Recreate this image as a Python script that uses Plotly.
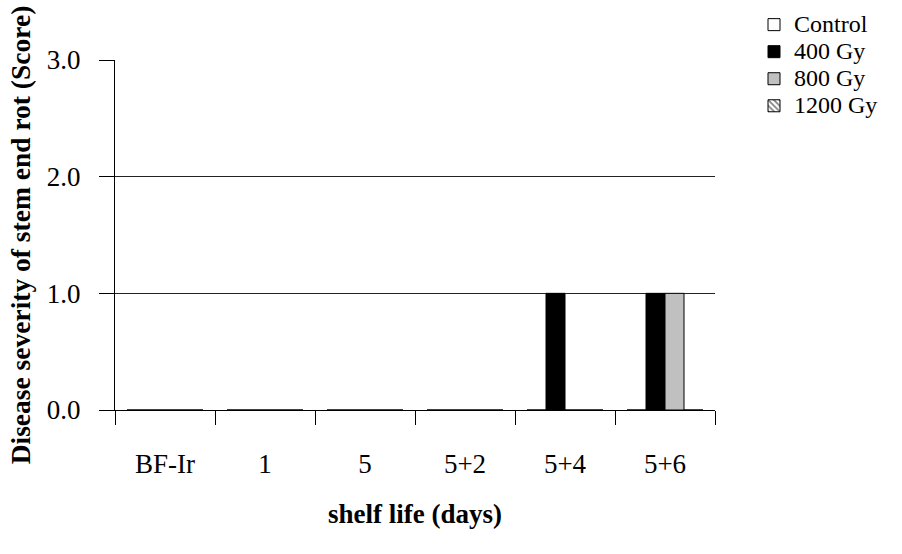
import plotly.graph_objects as go

categories = ["BF-Ir", "1", "5", "5+2", "5+4", "5+6"]
control = [0, 0, 0, 0, 0, 0]
gy400 = [0, 0, 0, 0, 1, 1]
gy800 = [0, 0, 0, 0, 0, 1]
gy1200 = [0, 0, 0, 0, 0, 0]
series_names = ["Control", "400 Gy", "800 Gy", "1200 Gy"]
y_ticks = [0, 1, 2, 3]
y_tick_labels = ["0.0", "1.0", "2.0", "3.0"]

FONT = "Liberation Serif, Times New Roman, serif"
FS = 27
LEG_FS = 24


def legend_label(name):
    return f'<span style="font-size:{LEG_FS}px">{name}</span>'


fig = go.Figure()
fig.add_trace(go.Bar(name=legend_label(series_names[0]), x=categories, y=control,
                     marker=dict(color="white", line=dict(color="black", width=1))))
fig.add_trace(go.Bar(name=legend_label(series_names[1]), x=categories, y=gy400,
                     marker=dict(color="black", line=dict(color="black", width=1))))
fig.add_trace(go.Bar(name=legend_label(series_names[2]), x=categories, y=gy800,
                     marker=dict(color="#c0c0c0", line=dict(color="black", width=1))))
fig.add_trace(go.Bar(name=legend_label(series_names[3]), x=categories, y=gy1200,
                     marker=dict(color="black", line=dict(color="black", width=1),
                                 pattern=dict(shape="\\", bgcolor="white", fgcolor="black",
                                              size=5, solidity=0.4))))

fig.update_layout(
    width=902, height=554,
    paper_bgcolor="white", plot_bgcolor="white",
    margin=dict(l=115, r=187, t=60, b=144, autoexpand=False),
    barmode="group", bargap=0.24, bargroupgap=0,
    font=dict(family=FONT, size=FS, color="black"),
    showlegend=True,
    legend=dict(x=1.065, y=1.154, xanchor="left", yanchor="top",
                font=dict(family=FONT, size=18.5), tracegroupgap=0,
                itemwidth=30, bgcolor="rgba(0,0,0,0)"),
    xaxis=dict(
        showline=True, linecolor="black", linewidth=1,
        ticks="outside", ticklen=14, tickcolor="black", tickwidth=1,
        tickson="boundaries", ticklabelstandoff=30,
        showgrid=False,
        title=dict(text="<b>shelf life (days)</b>", font=dict(family=FONT, size=FS), standoff=25),
    ),
    yaxis=dict(
        range=[0, 3], tickvals=y_ticks, ticktext=y_tick_labels,
        showline=True, linecolor="black", linewidth=1,
        ticks="outside", ticklen=15, tickcolor="black", tickwidth=1,
        ticklabelstandoff=13,
        showgrid=True, gridcolor="#222", gridwidth=1, zeroline=False,
        title=dict(text="<b>Disease severity of stem end rot (Score)</b>",
                   font=dict(family=FONT, size=27.5), standoff=8),
    ),
)

fig.write_html("out.html", config={"displayModeBar": False},
               post_script="document.body.style.margin='0';document.body.style.overflow='hidden';")
